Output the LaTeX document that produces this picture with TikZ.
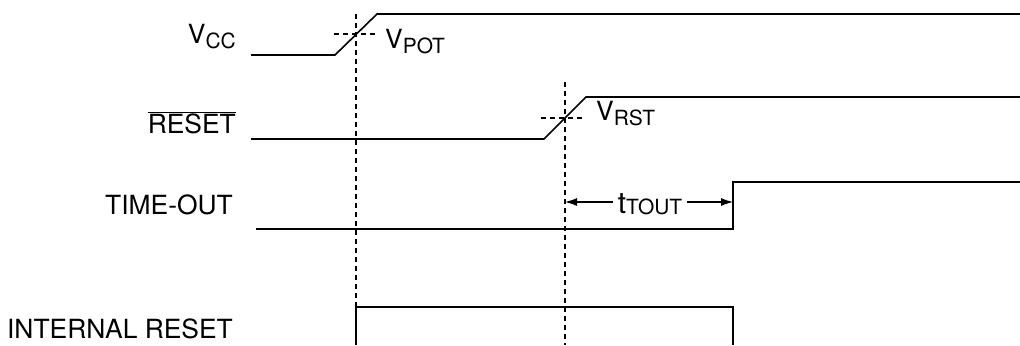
\documentclass[tikz,border=0pt]{standalone}
\usepackage{fontspec}
\setmainfont{TeX Gyre Heros}
\usetikzlibrary{arrows.meta}

\newcommand{\subtxt}[2][5bp]{\raisebox{-#1}{\fontsize{21}{21}\selectfont #2}}

\begin{document}
\begin{tikzpicture}[
  x=1bp,
  y=-1bp,
  >=Latex,
  wave/.style={line width=1.6bp, line join=miter},
  guide/.style={line width=1.1bp, dash pattern=on 5bp off 4bp},
  lbl/.style={font=\fontsize{26.5}{30}\selectfont, inner sep=0pt, anchor=base east},
  span/.style={-{Latex[length=12bp,width=8bp]}, line width=1.1bp}
]
\useasboundingbox (0,0) rectangle (1020,345);

% signal names
\node[lbl] (vcc)    at (236, 43) {V\subtxt{CC}};
\node[lbl] (rst)    at (236,133) {$\overline{\mbox{RESET}}$};
\node[lbl] (tout)   at (233,214) {TIME-OUT};
\node[lbl] (intrst) at (233,338) {INTERNAL RESET};

% waveforms
\draw[wave] (251, 55) -- (335, 55) -- (377, 14) -- (1020, 14);
\draw[wave] (251,139) -- (544,139) -- (586, 97) -- (1020, 97);
\draw[wave] (256,229) -- (733,229) -- (733,182) -- (1020,182);
\draw[wave] (356,345) -- (356,307) -- (733,307) -- (733,345);

% thresholds
\draw[guide] (356, 14) -- (356,345);
\draw[guide] (334, 34) -- (378, 34);
\draw[guide] (565, 82) -- (565,345);
\draw[guide] (541,118) -- (584,118);
\node[lbl, anchor=base west] (vpot) at (385, 48) {V\subtxt{POT}};
\node[lbl, anchor=base west] (vrst) at (596,120) {V\subtxt{RST}};

% time-out span
\coordinate (rstedge)  at (565,202);
\coordinate (toutedge) at (733,202);
\node[lbl, anchor=base, inner xsep=5bp] (ttout) at (650,213)
  {{\fontsize{30}{30}\selectfont t}\subtxt[1bp]{TOUT}};
\draw[span] (ttout.west |- rstedge) -- (rstedge);
\draw[span] (ttout.east |- toutedge) -- (toutedge);
\end{tikzpicture}
\end{document}
